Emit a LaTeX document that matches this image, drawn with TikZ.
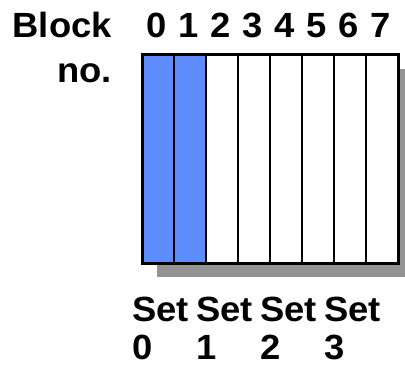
\documentclass[tikz,border=0pt]{standalone}
\usepackage{fontspec}
\setmainfont{Liberation Sans}[FakeStretch=1.04]
\usepackage{tikz}
\usetikzlibrary{calc, positioning}
\usepackage{xcolor}
\definecolor{blockblue}{RGB}{95, 140, 255}
\definecolor{shadowgray}{RGB}{147, 147, 147}

\begin{document}
\begin{tikzpicture}[
  x=1pt, y=1pt,
  cell/.style={draw, line width=2.2pt, minimum width=32pt,
               minimum height=209pt, inner sep=0pt, outer sep=0pt},
  lbl/.style={inner sep=0pt, font=\fontsize{35}{45}\selectfont\bfseries},
  setlbl/.style={inner sep=0pt, align=left,
                 font=\fontsize{35}{38}\selectfont\bfseries}
]
  \useasboundingbox (0,0) rectangle (405,-367);
  % shadow behind the blocks
  \fill[shadowgray] (157,-69) rectangle (413,-277);
  % the eight blocks
  \foreach \i in {0,...,7}{
    \ifnum\i<2
      \node[cell, fill=blockblue] (c\i) at (158+32*\i,-158.5) {};
    \else
      \node[cell, fill=white] (c\i) at (158+32*\i,-158.5) {};
    \fi
    \node[lbl, anchor=base] (n\i) at (157+32*\i,-37) {\i};
  }
  \draw[line width=3pt] (c0.north west) rectangle (c7.south east);
  \node[lbl, align=right, anchor=north east] (blockno) at (112,-11.5)
    {Block\\no.};
  % set labels
  \foreach \s in {0,...,3}
    \node[setlbl, anchor=north west] (set\s) at (132+64*\s,-297)
      {Set\\\s};
\end{tikzpicture}
\end{document}
